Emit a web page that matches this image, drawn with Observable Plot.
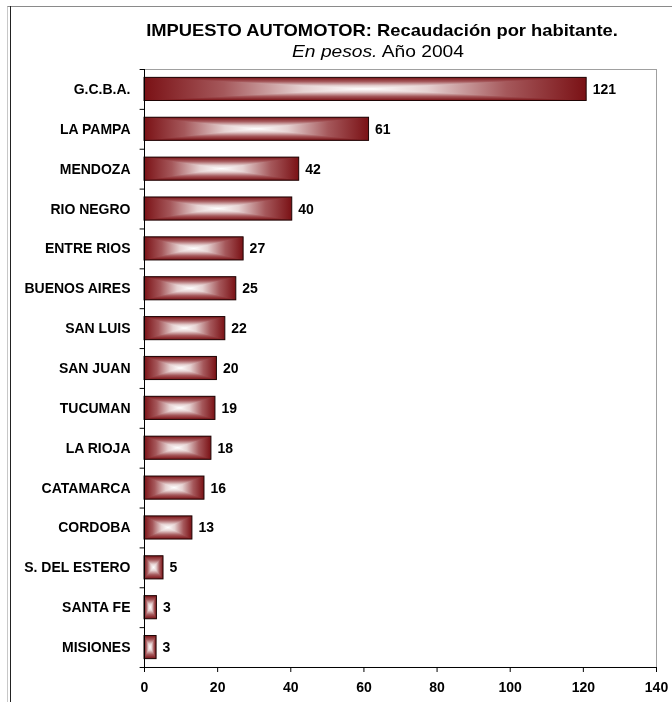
<!DOCTYPE html>
<html>
<head>
<meta charset="utf-8">
<script src="https://cdn.jsdelivr.net/npm/d3@7"></script>
<script src="https://cdn.jsdelivr.net/npm/@observablehq/plot@0.6"></script>
<style>
  body { margin: 0; background: #fff; }
  #wrap { position: relative; width: 672px; height: 702px; overflow: hidden; font-family: "Liberation Sans", Arial, sans-serif; }
  .t { position: absolute; white-space: nowrap; line-height: 1; color: #000; }
  #chart { position: absolute; left: 0; top: 0; }
</style>
</head>
<body>
<div id="wrap">
  <div style="position:absolute;left:7px;top:6px;width:700px;height:800px;border-left:1px solid #c8c8c8;border-top:1px solid #8a8a8a;"></div>
  <div style="position:absolute;left:10px;top:6px;width:1px;height:800px;background:#222;"></div>
  <div id="chart"></div>
  <div class="t" id="t1" style="left:382px;top:22px;font-size:17px;font-weight:bold;transform:translateX(-50%) scaleX(1.08);">IMPUESTO AUTOMOTOR: Recaudación por habitante.</div>
  <div class="t" id="t2" style="left:378px;top:44px;font-size:16px;transform:translateX(-50%) scaleX(1.2);"><i>En pesos.</i> Año 2004</div>
</div>
<script>
const provincias = ["G.C.B.A.", "LA PAMPA", "MENDOZA", "RIO NEGRO", "ENTRE RIOS", "BUENOS AIRES", "SAN LUIS", "SAN JUAN", "TUCUMAN", "LA RIOJA", "CATAMARCA", "CORDOBA", "S. DEL ESTERO", "SANTA FE", "MISIONES"];
const valores = [120.9, 61.4, 42.3, 40.4, 27.1, 25.1, 22.1, 19.8, 19.4, 18.3, 16.4, 13.1, 5.2, 3.4, 3.3];
const xTicks = [0, 20, 40, 60, 80, 100, 120, 140];

const data = provincias.map((p, i) => ({provincia: p, valor: valores[i]}));

const W = 672, H = 702, mT = 69, mB = 35, mL = 144, mR = 16;
const step = (H - mT - mB) / provincias.length;

const defs = () => {
  const ns = "http://www.w3.org/2000/svg";
  const d = document.createElementNS(ns, "defs");
  const mk = (id, x2, y2) => {
    const g = document.createElementNS(ns, "linearGradient");
    g.setAttribute("id", id);
    g.setAttribute("x1", 0); g.setAttribute("y1", 0);
    g.setAttribute("x2", x2); g.setAttribute("y2", y2);
    [[0, "#7a1115"], [0.18, "#a5585b"], [0.36, "#e6d2d2"], [0.5, "#ffffff"], [0.64, "#e6d2d2"], [0.82, "#a5585b"], [1, "#7a1115"]].forEach(([o, c]) => {
      const s = document.createElementNS(ns, "stop");
      s.setAttribute("offset", o); s.setAttribute("stop-color", c);
      g.appendChild(s);
    });
    d.appendChild(g);
  };
  mk("gh", 1, 0);
  mk("gv", 0, 1);
  return d;
};

const fontFam = "Liberation Sans, Arial, sans-serif";

const chart = Plot.plot({
  width: W, height: H,
  marginTop: mT, marginBottom: mB, marginLeft: mL, marginRight: mR,
  style: {fontFamily: fontFam, background: "transparent", overflow: "visible"},
  x: {domain: [0, 140]},
  y: {domain: provincias, paddingInner: 0.42, paddingOuter: 0.21, round: false},
  marks: [
    defs,
    Plot.frame({stroke: "#a0a0a0"}),
    Plot.barX(data, {x: "valor", y: "provincia", fill: "url(#gh)"}),
    Plot.barX(data, {x: "valor", y: "provincia", fill: "url(#gv)", mixBlendMode: "darken"}),
    Plot.barX(data, {x: "valor", y: "provincia", fill: "none", stroke: "#1e0606", strokeWidth: 1}),
    Plot.text(data, {x: "valor", y: "provincia", text: d => String(Math.round(d.valor)), textAnchor: "start", dx: 6, fontSize: 14, fontWeight: "bold", fill: "#000"}),
    Plot.ruleX([0], {stroke: "#000"}),
    Plot.ruleY([provincias[provincias.length - 1]], {dy: step / 2, stroke: "#000"}),
    Plot.ruleY(provincias, {x1: -1.2, x2: 0, dy: -step / 2, stroke: "#000"}),
    Plot.ruleY([provincias[provincias.length - 1]], {x1: -1.2, x2: 0, dy: step / 2, stroke: "#000"}),
    Plot.axisY({tickSize: 0, tickPadding: 14, fontSize: 14, fontWeight: "bold", fill: "#000", label: null}),
    Plot.axisX({ticks: xTicks, tickSize: 5, tickPadding: 10, fontSize: 14, fontWeight: "bold", fill: "#000", stroke: "#000", label: null, tickFormat: d => String(d)})
  ]
});
document.getElementById("chart").appendChild(chart);
</script>
</body>
</html>
